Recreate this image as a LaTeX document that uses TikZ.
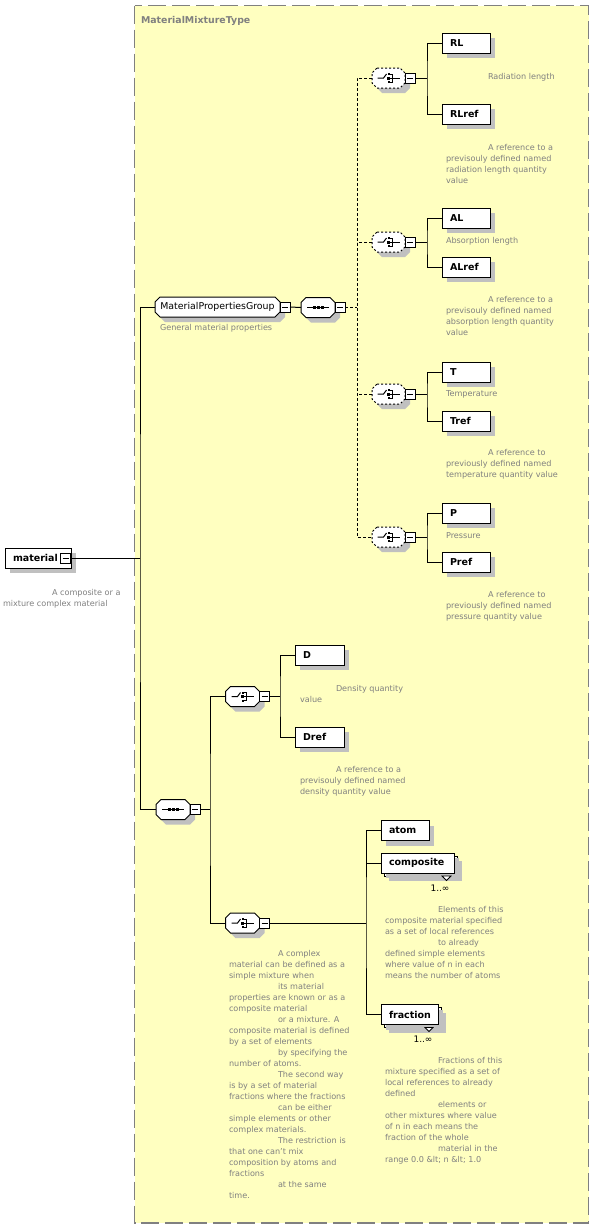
\documentclass[tikz,border=0pt]{standalone}
\usepackage{fontspec}
\setmainfont{DejaVu Sans}
\usetikzlibrary{shadows}
\definecolor{bgyellow}{RGB}{255,255,192}
\definecolor{framegray}{RGB}{128,128,128}
\definecolor{descgray}{RGB}{128,128,128}
\definecolor{shade}{RGB}{192,192,192}
\newcommand\xnamefont{\fontsize{9.5}{11}\selectfont\bfseries}
\newcommand\xdescfont{\fontsize{8.1}{11}\selectfont}
\newcommand\xgrpfont{\fontsize{9.4}{11}\selectfont}
\newcommand\octa[3]{\path[#3] ([xshift=#2]#1.north west) -- ([xshift=-#2]#1.north east) -- ([yshift=-#2]#1.north east) -- ([yshift=#2]#1.south east) -- ([xshift=-#2]#1.south east) -- ([xshift=#2]#1.south west) -- ([yshift=#2]#1.south west) -- ([yshift=-#2]#1.north west) -- cycle;}
\newcommand\octabox[3]{\octa{#1}{#2}{fill=shade, transform canvas={xshift=5pt,yshift=-5pt}}\octa{#1}{#2}{draw, line width=1pt, fill=white, #3}}
\newcommand\choiceicon[1]{\begin{scope}[shift={(#1.center)}]
 \draw[line width=1pt] (-11,0) -- (-5,0) -- (-2,-4);
 \fill (-1,-5) rectangle (1,-3); \fill (-1.5,-1.5) rectangle (1.5,1.5); \fill (-1,3) rectangle (1,5);
 \draw[line width=1pt] (1,-4) -- (4,-4) -- (4,4) -- (1,4);
 \draw[line width=1pt] (1.5,0) -- (11,0);
 \end{scope}}
\newcommand\seqicon[1]{\begin{scope}[shift={(#1.center)}]
 \draw[line width=1pt] (-11,0) -- (11,0);
 \fill (-5.5,-1.5) rectangle (-2.5,1.5); \fill (-1.5,-1.5) rectangle (1.5,1.5); \fill (2.5,-1.5) rectangle (5.5,1.5);
 \end{scope}}
\begin{document}
\begin{tikzpicture}[x=1pt,y=-1pt,
 base/.style={inner sep=0pt, outer sep=0pt},
 shadowed/.style={drop shadow={shadow xshift=5pt,shadow yshift=-5pt,fill=shade,opacity=1}},
 elem/.style={base, draw, line width=1pt, fill=white, minimum height=20pt, inner xsep=8pt, text width=#1, align=left, font=\xnamefont, shadowed},
 backbox/.style 2 args={base, draw, line width=1pt, fill=white, minimum width=#1, minimum height=#2, shadowed},
 hold/.style 2 args={base, minimum width=#1, minimum height=#2},
 minus/.style={base, draw, line width=0.8pt, fill=white, minimum width=10pt, minimum height=10pt,
   path picture={\draw[line width=0.8pt] ([xshift=2pt]path picture bounding box.west) -- ([xshift=-2pt]path picture bounding box.east);}},
 desc/.style={base, anchor=base west, align=left, font=\xdescfont, text=descgray},
 mult/.style={base, anchor=base, font=\fontsize{9}{11}\selectfont},
 conn/.style={line width=1pt},
 dconn/.style={line width=1pt, dash pattern=on 3pt off 2pt},
 marker/.style={draw, line width=0.8pt, fill=white}]
\useasboundingbox (0,0) rectangle (594,1229);
\fill[white] (0,0) rectangle (594,1229);
% type frame
\draw[framegray, fill=bgyellow, line width=1.3pt, dash pattern=on 18pt off 6pt] (134.5,5.5) rectangle (588.5,1223);
\node[base, anchor=base west, font=\fontsize{9.4}{11}\selectfont\bfseries, text=framegray] (title) at (141,23) {MaterialMixtureType};

% elements
\node[elem=50pt] (mat) at (38,558) {material};
\node[elem=32pt] (RL) at (466,43) {RL};
\node[elem=32pt] (RLref) at (466,114) {RLref};
\node[elem=32pt] (AL) at (466,218) {AL};
\node[elem=32pt] (ALref) at (466,267) {ALref};
\node[elem=32pt] (T) at (466,372) {T};
\node[elem=32pt] (Tref) at (466,421) {Tref};
\node[elem=32pt] (P) at (466,513) {P};
\node[elem=32pt] (Pref) at (466,562) {Pref};
\node[elem=33pt] (D) at (319.5,655) {D};
\node[elem=33pt] (Dref) at (319.5,737) {Dref};
\node[elem=32pt] (atom) at (405,830.5) {atom};
\node[backbox={73pt}{20pt}] (compB) at (420.5,866) {};
\node[elem=57pt, drop shadow={opacity=0}] (comp) at (417.5,863) {composite};
\node[backbox={57pt}{20pt}] (fracB) at (412.5,1017.5) {};
\node[elem=41pt, drop shadow={opacity=0}] (frac) at (409.5,1014.5) {fraction};
\draw[marker] (442,876) -- (451,876) -- (446.5,880.5) -- cycle;
\draw[marker] (425,1027.5) -- (433,1027.5) -- (429,1031.5) -- cycle;
\node[mult] (compmult) at (440,891) {1..∞};
\node[mult] (fracmult) at (423,1042) {1..∞};

% compositor placeholders
\node[hold={125pt}{20pt}] (mpg) at (217.5,307) {};
\node[hold={34pt}{20pt}] (s1) at (318,307.5) {};
\node[hold={33pt}{20pt}] (chRL) at (388.5,78) {};
\node[hold={33pt}{20pt}] (chAL) at (388.5,242) {};
\node[hold={33pt}{20pt}] (chT) at (388.5,394) {};
\node[hold={33pt}{20pt}] (chP) at (388.5,537) {};
\node[hold={34pt}{20pt}] (s2) at (173,809.5) {};
\node[hold={34pt}{20pt}] (c1) at (242.5,696.5) {};
\node[hold={34pt}{20pt}] (c2) at (242.5,923) {};

% compositor shapes
\octabox{mpg}{5pt}{}
\octabox{s1}{5pt}{}
\octabox{chRL}{5pt}{dash pattern=on 2pt off 2pt}
\octabox{chAL}{5pt}{dash pattern=on 2pt off 2pt}
\octabox{chT}{5pt}{dash pattern=on 2pt off 2pt}
\octabox{chP}{5pt}{dash pattern=on 2pt off 2pt}
\octabox{s2}{5pt}{}
\octabox{c1}{5pt}{}
\octabox{c2}{5pt}{}
\node[base, font=\xgrpfont] (mpgtext) at (mpg.center) {MaterialPropertiesGroup};
\seqicon{s1}
\seqicon{s2}
\choiceicon{chRL}
\choiceicon{chAL}
\choiceicon{chT}
\choiceicon{chP}
\choiceicon{c1}
\choiceicon{c2}

% expand squares
\node[minus, anchor=east] (matm) at ([xshift=-0.5pt]mat.east) {};
\node[minus, anchor=west] (mpgm) at (mpg.east) {};
\node[minus, anchor=west] (s1m) at (s1.east) {};
\node[minus, anchor=west] (chRLm) at (chRL.east) {};
\node[minus, anchor=west] (chALm) at (chAL.east) {};
\node[minus, anchor=west] (chTm) at (chT.east) {};
\node[minus, anchor=west] (chPm) at (chP.east) {};
\node[minus, anchor=west] (s2m) at (s2.east) {};
\node[minus, anchor=west] (c1m) at (c1.east) {};
\node[minus, anchor=west] (c2m) at (c2.east) {};

% junctions
\coordinate (j0) at (140,558);
\coordinate (j1) at (357,307.5);
\coordinate (jRL) at (427,78);
\coordinate (jAL) at (427,242);
\coordinate (jT) at (427,394);
\coordinate (jP) at (427,537);
\coordinate (j2) at (210,809.5);
\coordinate (j3) at (280,696.5);
\coordinate (j4) at (366,923);

% connectors
\draw[conn] (matm.east) -- (j0);
\draw[conn] (mpg.west) -| (j0) |- (s2.west);
\draw[conn] (mpgm.east) -- (s1.west);
\draw[dconn] (s1m.east) -- (j1);
\draw[dconn] (chRL.west) -| (j1) |- (chP.west);
\draw[dconn] (chAL.west) -- (chAL.west -| j1);
\draw[dconn] (chT.west) -- (chT.west -| j1);
\draw[conn] (chRLm.east) -- (jRL);
\draw[conn] (RL.west) -| (jRL) |- (RLref.west);
\draw[conn] (chALm.east) -- (jAL);
\draw[conn] (AL.west) -| (jAL) |- (ALref.west);
\draw[conn] (chTm.east) -- (jT);
\draw[conn] (T.west) -| (jT) |- (Tref.west);
\draw[conn] (chPm.east) -- (jP);
\draw[conn] (P.west) -| (jP) |- (Pref.west);
\draw[conn] (s2m.east) -- (j2);
\draw[conn] (c1.west) -| (j2) |- (c2.west);
\draw[conn] (c1m.east) -- (j3);
\draw[conn] (D.west) -| (j3) |- (Dref.west);
\draw[conn] (c2m.east) -- (j4);
\draw[conn] (atom.west) -| (j4) |- (frac.west);
\draw[conn] (comp.west) -- (comp.west -| j4);

% documentation (anchored at the baseline of the last line)
\node[desc] (dMat) at (3,606) {\hspace*{49pt}A composite or a\\mixture complex material};
\node[desc] (dMPG) at (160,330) {General material properties};
\node[desc] (dRL) at (488,79) {Radiation length};
\node[desc] (dRLref) at (446,183) {\hspace*{42pt}A reference to a\\previsouly defined named\\radiation length quantity\\value};
\node[desc] (dAL) at (446,243) {Absorption length};
\node[desc] (dALref) at (446,335) {\hspace*{42pt}A reference to a\\previsouly defined named\\absorption length quantity\\value};
\node[desc] (dT) at (446,396) {Temperature};
\node[desc] (dTref) at (446,477) {\hspace*{42pt}A reference to\\previously defined named\\temperature quantity value};
\node[desc] (dP) at (446,538) {Pressure};
\node[desc] (dPref) at (446,619) {\hspace*{42pt}A reference to\\previously defined named\\pressure quantity value};
\node[desc] (dD) at (300,702) {\hspace*{36pt}Density quantity\\value};
\node[desc] (dDref) at (300,794) {\hspace*{36pt}A reference to a\\previsouly defined named\\density quantity value};
\node[desc] (dComp) at (385,978) {\hspace*{53pt}Elements of this\\composite material specified\\as a set of local references\\\hspace*{53pt}to already\\defined simple elements\\where value of n in each\\means the number of atoms};
\node[desc] (dFrac) at (385,1162) {\hspace*{53pt}Fractions of this\\mixture specified as a set of\\local references to already\\defined\\\hspace*{53pt}elements or\\other mixtures where value\\of n in each means the\\fraction of the whole\\\hspace*{53pt}material in the\\range 0.0 \&lt; n \&lt; 1.0};
\node[desc] (dC2) at (229,1198) {\hspace*{49pt}A complex\\material can be defined as a\\simple mixture when\\\hspace*{49pt}its material\\properties are known or as a\\composite material\\\hspace*{49pt}or a mixture. A\\composite material is defined\\by a set of elements\\\hspace*{49pt}by specifying the\\number of atoms.\\\hspace*{49pt}The second way\\is by a set of material\\fractions where the fractions\\\hspace*{49pt}can be either\\simple elements or other\\complex materials.\\\hspace*{49pt}The restriction is\\that one can't mix\\composition by atoms and\\fractions\\\hspace*{49pt}at the same\\time.};
\end{tikzpicture}
\end{document}
